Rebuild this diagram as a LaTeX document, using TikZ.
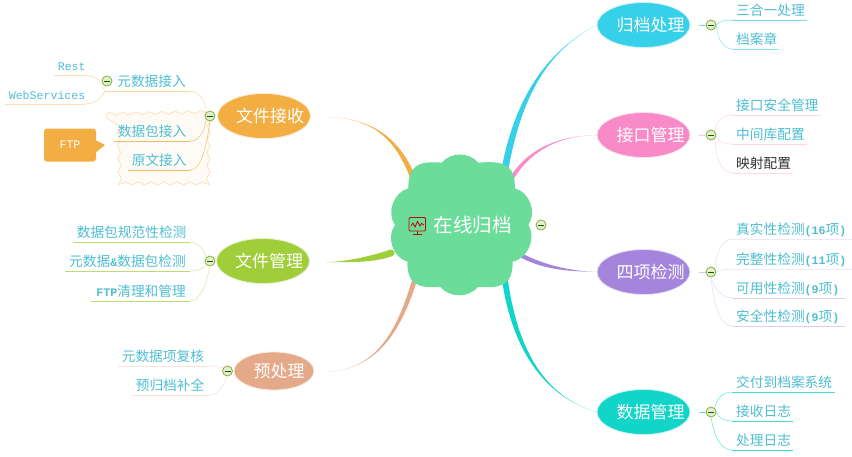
\documentclass[tikz,border=0pt]{standalone}
\usepackage{fontspec}
\setmainfont{Liberation Mono}
\newfontfamily\zhf{Noto Sans CJK SC}
\usetikzlibrary{calc,shapes.geometric,decorations.pathmorphing}
\definecolor{cCyan}{HTML}{36D0E8}
\definecolor{cPink}{HTML}{F88AC8}
\definecolor{cPurple}{HTML}{A585DC}
\definecolor{cTeal}{HTML}{10D5C8}
\definecolor{cOrange}{HTML}{F2AE42}
\definecolor{cGreen}{HTML}{9FCE3A}
\definecolor{cSalmon}{HTML}{E4A988}
\definecolor{cCloud}{HTML}{6CDC9A}
\definecolor{cText}{HTML}{4FBED2}
\newcommand\zh[1]{{\zhf\fontsize{13.7}{16}\selectfont #1}}
\tikzset{
  topic/.style={ellipse,fill=#1,draw=#1!25,line width=0.8pt,minimum width=93pt,minimum height=45pt,inner sep=0pt},
  topictext/.style={inner sep=0pt,text=white,font=\zhf\fontsize{17}{20}\selectfont},
  leafbase/.style={inner xsep=4pt,inner ysep=2pt,text height=10pt,text depth=2pt,text=cText,
    font=\fontsize{11.6}{14}\selectfont},
  leafr/.style={leafbase,anchor=south west,align=left},
  leafl/.style={leafbase,anchor=south east,align=right},
  foldbtn/.style={circle,draw=#1,fill=#1!22,line width=0.8pt,minimum size=10pt,inner sep=0pt},
  foldbtn/.default={cGreen!85!black},
  link/.style={line width=0.6pt},
  under/.style={line width=1pt}
}
\newcommand\taper[7]{\fill[#1] ($(#2)+(#6,#7)$) .. controls ($(#3)+(#6,#7)$) and (#4) .. (#5)
  .. controls (#4) and ($(#3)-(#6,#7)$) .. ($(#2)-(#6,#7)$) -- cycle;}
\newcommand\fold[2]{\node[foldbtn] (#1) at (#2) {};\draw[line width=1pt,green!40!black] ([xshift=-3pt]#1.center) -- ([xshift=3pt]#1.center);}
\begin{document}
\begin{tikzpicture}[x=1pt,y=-1pt]
\useasboundingbox (0,0) rectangle (852,456);
\fill[white] (0,0) rectangle (852,456);

% topics
\node[topic=cCyan]   (gd) at (643.5,25) {};
\node[topic=cPink]   (jk) at (643.5,135) {};
\node[topic=cPurple] (sx) at (643.5,272) {};
\node[topic=cTeal]   (sj) at (643.5,412) {};
\node[topic=cOrange] (js) at (264,116) {};
\node[topic=cGreen]  (gl) at (263,261) {};
\node[topic=cSalmon,minimum width=80pt,minimum height=38pt] (yc) at (274,371) {};
\node[topictext] (tgd) at ([xshift=7pt]gd.center) {归档处理};
\node[topictext] (tjk) at ([xshift=7pt]jk.center) {接口管理};
\node[topictext] (tsx) at ([xshift=7pt]sx.center) {四项检测};
\node[topictext] (tsj) at ([xshift=7pt]sj.center) {数据管理};
\node[topictext] (tjs) at ([xshift=6pt]js.center) {文件接收};
\node[topictext] (tgl) at ([xshift=6pt]gl.center) {文件管理};
\node[topictext] (tyc) at ([xshift=5pt]yc.center) {预处理};

% cloud start points
\coordinate (sGd) at (503,180);
\coordinate (sJk) at (508,185);
\coordinate (sSx) at (512,250);
\coordinate (sSj) at (503,265);
\coordinate (sJs) at (418,192);
\coordinate (sGl) at (391,253);
\coordinate (sYc) at (418,268);

% main branches
\taper{cCyan}{sGd}{516,100}{545,52}{gd.west}{3.5}{0}
\taper{cPink}{sJk}{525,152}{555,136}{jk.west}{1.6}{1.2}
\taper{cPurple}{sSx}{540,268}{570,271}{sx.west}{1}{3}
\taper{cTeal}{sSj}{512,350}{545,397}{sj.west}{3}{0}
\taper{cOrange}{sJs}{402,140}{375,118}{$(js.east)+(15,1)$}{3}{0}
\taper{cGreen}{sGl}{370,260}{345,262}{$(gl.east)+(16,1)$}{0}{3.5}
\taper{cSalmon}{sYc}{400,335}{375,370}{$(yc.east)+(11,1)$}{2.5}{0}
\fill[cGreen] (sGl) circle (3.5);

% cloud
\node[inner sep=0pt,minimum size=0pt] (cloud) at (461,225) {};
\coordinate (n1) at (478.3,162.7);
\coordinate (n2) at (441.7,162.7);
\coordinate (n3) at (408.3,188.3);
\coordinate (n4) at (395,225);
\coordinate (n5) at (407.3,261.7);
\coordinate (n6) at (440,286.7);
\coordinate (n7) at (478.3,286.7);
\coordinate (n8) at (512.7,261.7);
\coordinate (n9) at (528.3,225);
\coordinate (n10) at (515,188.3);
\fill[cCloud] (n2) to[bend left=50] (n1) to[out=5,in=90,looseness=1.4] (n10)
  to[bend left=55] (n9) to[bend left=55] (n8)
  to[out=-90,in=-5,looseness=1.4] (n7) to[bend left=50] (n6)
  to[out=185,in=-90,looseness=1.4] (n5) to[bend left=55] (n4) to[bend left=55] (n3)
  to[out=90,in=175,looseness=1.4] (n2) -- cycle;
\node[text=white,font=\zhf\fontsize{19.5}{22}\selectfont,inner sep=0pt] (ct) at (472.5,225) {在线归档};

% monitor icon
\draw[red!70!black!90!orange,line width=0.9pt,rounded corners=1pt] (409,217.5) rectangle (425.5,231);
\draw[red!70!black!90!orange,line width=0.9pt] (417,231) -- (417,233.5) (412.5,234) -- (421.5,234);
\draw[red!80!black,line width=0.8pt] (411,226) -- (413,223) -- (415,227) -- (417.5,221.5) -- (420,226) -- (421.5,223.5) -- (424,225);

% wavy boundary and callout
\draw[draw=cOrange!35,fill=cOrange!5,line width=0.8pt,decorate,decoration={snake,amplitude=1.5pt,segment length=13pt}]
  (106,114) -- (202,112) -- (201,183) -- (108,183) -- cycle;
\node[fill=cOrange,rounded corners=3pt,minimum width=52pt,minimum height=33pt,inner sep=0pt,text=white,font=\fontsize{11.6}{14}\selectfont] (ftp) at (70,145) {FTP};
\coordinate (ftpTip) at (105,145);
\fill[cOrange] ($(ftp.east)+(-1,-5)$) -- (ftpTip) -- ($(ftp.east)+(-1,8)$) -- cycle;

% fold buttons
\fold{bGd}{711,25}
\fold{bJk}{711,135}
\fold{bSx}{711,272}
\fold{bSj}{711,412}
\fold{bJs}{210,116}
\fold{bGl}{210,261}
\fold{bYc}{227.5,371}
\fold{bMeta}{107,81}
\fold{bRoot}{541,225}

% right leaves
\node[leafr,text width=67pt] (a1) at (732,20) {\zh{三合一处理}};
\node[leafr,text width=39pt] (a2) at (732,49) {\zh{档案章}};
\node[leafr,text width=81pt] (b1) at (732,115) {\zh{接口安全管理}};
\node[leafr,text width=67pt] (b2) at (732,144) {\zh{中间库配置}};
\node[leafr,text width=53pt,text=black!80] (b3) at (732,173) {\zh{映射配置}};
\node[leafr,text width=112pt] (c1) at (732,239) {\zh{真实性检测}\textbf{(16}\zh{项}\textbf{)}};
\node[leafr,text width=112pt] (c2) at (732,269) {\zh{完整性检测}\textbf{(11}\zh{项}\textbf{)}};
\node[leafr,text width=105pt] (c3) at (732,298) {\zh{可用性检测}\textbf{(9}\zh{项}\textbf{)}};
\node[leafr,text width=105pt] (c4) at (732,326) {\zh{安全性检测}\textbf{(9}\zh{项}\textbf{)}};
\node[leafr,text width=95pt] (d1) at (732,392) {\zh{交付到档案系统}};
\node[leafr,text width=53pt] (d2) at (732,421) {\zh{接收日志}};
\node[leafr,text width=53pt] (d3) at (732,450) {\zh{处理日志}};

% left leaves
\node[leafl,text width=77pt] (e1) at (190,91) {\zh{元数据接入}};
\node[leafl,text width=68pt] (e2) at (190,141) {\zh{数据包接入}};
\node[leafl,text width=54pt] (e3) at (190,170) {\zh{原文接入}};
\node[leafl,text width=23pt] (e4) at (85,75) {Rest};
\node[leafl,text width=72pt] (e5) at (85,104) {WebServices};
\node[leafl,text width=109pt] (f1) at (190,242) {\zh{数据包规范性检测}};
\node[leafl,text width=117pt] (f2) at (190,271) {\zh{元数据}\textbf{\&}\zh{数据包检测}};
\node[leafl,text width=91pt] (f3) at (190,301) {\textbf{FTP}\zh{清理和管理}};
\node[leafl,text width=84pt] (g1) at (210,366) {\zh{元数据项复核}\hspace*{4pt}};
\node[leafl,text width=70pt] (g2) at (210,395) {\zh{预归档补全}\hspace*{4pt}};

% stubs
\draw[link,cCyan!70] ($(bGd.west)+(-7,0)$) -- (bGd.west);
\draw[link,cPink!50] ($(bJk.west)+(-7,0)$) -- (bJk.west);
\draw[link,cPurple!50] ($(bSx.west)+(-7,0)$) -- (bSx.west);
\draw[link,cTeal!70] ($(bSj.west)+(-7,0)$) -- (bSj.west);

% underlines with curves
\draw[link,cCyan!60] (bGd.east) .. controls (720,21) and (724,20) .. (a1.south west);
\draw[under,cCyan!70] (a1.south west) -- (a1.south east);
\draw[link,cCyan!50] (bGd.east) .. controls (717,40) and (725,49) .. (a2.south west);
\draw[under,cCyan!60] (a2.south west) -- (a2.south east);

\draw[link,cPink!30] (bJk.north east) .. controls (716,122) and (722,115) .. (b1.south west);
\draw[under,cPink!35] (b1.south west) -- (b1.south east);
\draw[link,cPink!30] (bJk.east) .. controls (717,141) and (722,144) .. (b2.south west);
\draw[under,cPink!35] (b2.south west) -- (b2.south east);
\draw[link,cPink!30] (bJk.south east) .. controls (716,160) and (722,173) .. (b3.south west);
\draw[under,cPink!35] (b3.south west) -- (b3.south east);

\draw[link,cPurple!25] (bSx.north east) .. controls (716,254) and (722,239) .. (c1.south west);
\draw[under,cPurple!20] (c1.south west) -- (c1.south east);
\draw[link,cPurple!25] (bSx.east) .. controls (720,270) and (726,269) .. (c2.south west);
\draw[under,cPurple!20] (c2.south west) -- (c2.south east);
\draw[link,cPurple!25] (bSx.south) .. controls (714,288) and (722,298) .. (c3.south west);
\draw[under,cPurple!40] (c3.south west) -- (c3.south east);
\draw[link,cPurple!25] (bSx.south) .. controls (714,310) and (722,326) .. (c4.south west);
\draw[under,cPurple!40] (c4.south west) -- (c4.south east);

\draw[link,cTeal!55] (bSj.north east) .. controls (716,400) and (722,392) .. (d1.south west);
\draw[under,cTeal!80] (d1.south west) -- (d1.south east);
\draw[link,cTeal!55] (bSj.east) .. controls (717,417) and (724,421) .. (d2.south west);
\draw[under,cTeal!80] (d2.south west) -- (d2.south east);
\draw[link,cTeal!55] (bSj.south) .. controls (714,435) and (720,450) .. (d3.south west);
\draw[under,cTeal!80] (d3.south west) -- (d3.south east);

\draw[link,cOrange!40] (bJs.north west) .. controls (206,100) and (198,91) .. (e1.south east);
\draw[under,cOrange!50] (e1.south east) -- (e1.south west);
\draw[link,cOrange!70] (bJs.south west) .. controls (205,128) and (201,141) .. (e2.south east);
\draw[under,cOrange!85] (e2.south east) -- (e2.south west);
\draw[link,cOrange!70] (bJs.south) .. controls (207,140) and (203,170) .. (e3.south east);
\draw[under,cOrange!85] (e3.south east) -- (e3.south west);
\draw[link,cOrange!40] (bMeta.south) ++(-2,5) .. controls (101,81) and (95,75) .. (e4.south east);
\draw[under,cOrange!40] (e4.south east) -- (e4.south west);
\draw[link,cOrange!40] (bMeta.south) ++(-2,5) .. controls (101,98) and (95,104) .. (e5.south east);
\draw[under,cOrange!40] (e5.south east) -- (e5.south west);

\draw[link,cGreen!40] (bGl.north west) .. controls (204,250) and (198,242) .. (f1.south east);
\draw[under,cGreen!70] (f1.south east) -- (f1.south west);
\draw[link,cGreen!40] (bGl.south west) .. controls (204,268) and (198,271) .. (f2.south east);
\draw[under,cGreen!70] (f2.south east) -- (f2.south west);
\draw[link,cGreen!40] (bGl.south) .. controls (206,285) and (200,301) .. (f3.south east);
\draw[under,cGreen!70] (f3.south east) -- (f3.south west);

\draw[link,cSalmon!30] (bYc.north west) .. controls (220,368) and (216,366) .. (g1.south east);
\draw[under,cSalmon!30] (g1.south east) -- (g1.south west);
\draw[link,cSalmon!30] (bYc.south) .. controls (224,385) and (218,395) .. (g2.south east);
\draw[under,cSalmon!30] (g2.south east) -- (g2.south west);
\end{tikzpicture}
\end{document}
